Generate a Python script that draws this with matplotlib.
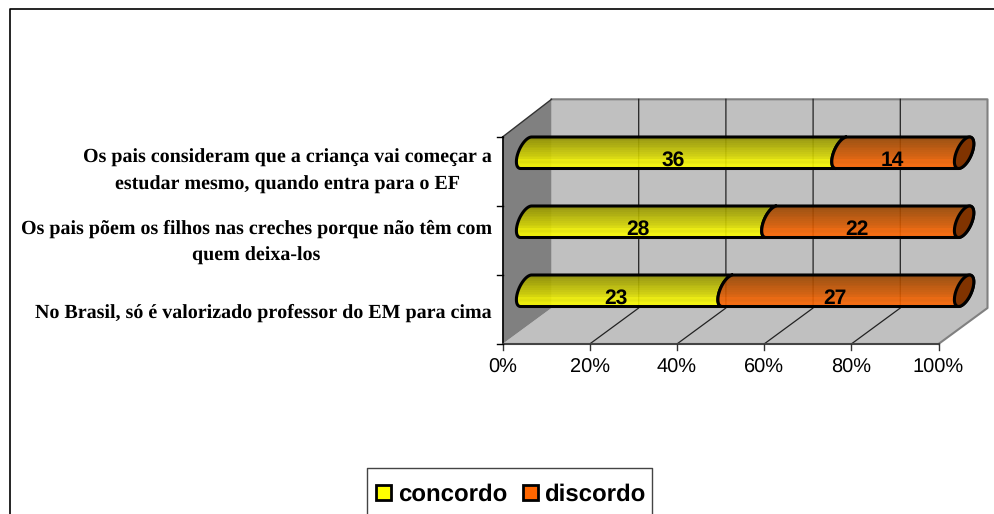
"""Stacked 3D-look cylinder bars (Excel style), drawn in pixel coordinates."""
import matplotlib
matplotlib.use("Agg")
import matplotlib.pyplot as plt
from matplotlib.patches import Polygon
import numpy as np

plt.rcParams["text.hinting"] = "none"
plt.rcParams["text.hinting_factor"] = 1

CATEGORIES = ["Os pais consideram que a criança vai começar a\nestudar mesmo, quando entra para o EF",
              "Os pais põem os filhos nas creches porque não têm com\nquem deixa-los",
              "No Brasil, só é valorizado professor do EM para cima"]
CONCORDO = [36, 28, 23]
DISCORDO = [14, 22, 27]
SERIES = ["concordo", "discordo"]
TICKS = [0, 20, 40, 60, 80, 100]

# plot box in pixels
X0, X1 = 502.5, 938.5
Y_TOP, Y_BOT = 137.0, 344.0
DX = 49.0
BACK_TOP, BACK_BOT = 99.3, 308.0
BAR_H = 31.5
BAR_X0, BAR_W = 520.6, 438.0
SKEW, RX = 11.0, 8.0
SANS = "Liberation Sans"
SERIF = "Liberation Serif"


def arc(x, top, side):
    # half of the skewed end ellipse, top to bottom; side -1 = left bulge
    t = np.linspace(0, np.pi, 30)
    cx, cy = x + SKEW / 2, top + BAR_H / 2
    xs = cx + side * RX * np.sin(t) + SKEW / 2 * np.cos(t)
    ys = cy - BAR_H / 2 * np.cos(t)
    return np.column_stack([xs, ys])


def segment(ax, lo, hi, top, c_dark, c_light, z, end_side):
    left = arc(lo, top, -1)
    right = arc(hi, top, end_side)
    pts = np.vstack([left, right[::-1]])
    ax.add_patch(Polygon(pts, closed=True, fc="none", ec="black", lw=2.2, zorder=z + 0.1))
    clip = Polygon(pts, closed=True, transform=ax.transData)
    n = 18
    ramp = np.linspace(0, 1, n)
    ramp[n - 5] = min(1, ramp[n - 5] + 0.1)
    img = np.array([[np.array(c_dark) * (1 - r) + np.array(c_light) * r] for r in ramp])
    im = ax.imshow(img, extent=(lo - 15, hi + 25, top + BAR_H, top), aspect="auto",
                   interpolation="nearest", alpha=0.9, zorder=z)
    im.set_clip_path(clip)


def main():
    fig = plt.figure(figsize=(9.94, 5.14), dpi=100)
    ax = fig.add_axes([0, 0, 1, 1])
    ax.set_axis_off()

    # outer chart frame, runs off the bottom and right of the image
    ax.plot([9.5, 9.5, 1000], [520, 9, 9], color="black", lw=1.2)

    # walls and floor
    ax.add_patch(Polygon([(X0 + DX, BACK_TOP), (X1 + DX, BACK_TOP), (X1 + DX, BACK_BOT),
                          (X1, Y_BOT), (X0, Y_BOT), (X0 + DX, BACK_BOT)],
                         fc="#c0c0c0", ec="none", zorder=1))
    ax.add_patch(Polygon([(X0, Y_TOP), (X0 + DX, BACK_TOP), (X0 + DX, BACK_BOT), (X0, Y_BOT)],
                         fc="#808080", ec="none", zorder=1))
    ax.plot([X0 + DX, X1 + DX, X1 + DX, X1], [BACK_TOP, BACK_TOP, BACK_BOT, Y_BOT],
            color="#808080", lw=1.5, zorder=2)
    ax.plot([X0, X0 + DX], [Y_TOP, BACK_TOP], color="#333333", lw=1, zorder=2)

    # gridlines on the floor and back wall
    for t in TICKS[1:-1]:
        x = X0 + (X1 - X0) * t / 100
        ax.plot([x, x + DX, x + DX], [Y_BOT, BACK_BOT, BACK_TOP], color="#222222", lw=0.9, zorder=2)

    # axes and ticks
    ax.plot([X0, X0], [Y_TOP, Y_BOT], color="black", lw=1.2, zorder=3)
    ax.plot([X0, X1], [Y_BOT, Y_BOT], color="#444444", lw=1.5, zorder=3)
    for t in TICKS:
        x = X0 + (X1 - X0) * t / 100
        ax.plot([x, x], [Y_BOT, Y_BOT + 6], color="#333333", lw=1, zorder=3)
        ax.text(x, 368, f"{t}%", ha="center", va="center", fontsize=14.3, family=SANS, color="black")
    pitch = (Y_BOT - Y_TOP) / len(CATEGORIES)
    for i in range(len(CATEGORIES) + 1):
        y = Y_TOP + pitch * i
        ax.plot([X0 - 6, X0], [y, y], color="black", lw=1, zorder=3)

    # bars
    for i, (a, b) in enumerate(zip(CONCORDO, DISCORDO)):
        top = Y_TOP + pitch * i
        total = a + b
        mid = BAR_X0 + BAR_W * a / total
        end = BAR_X0 + BAR_W
        segment(ax, BAR_X0, mid, top, (0.56, 0.56, 0), (1, 1, 0), 4, -1)
        segment(ax, mid, end, top, (0.58, 0.27, 0), (1, 0.40, 0), 5, 1)
        t = np.linspace(0, 2 * np.pi, 60)
        cx, cy = end + SKEW / 2, top + BAR_H / 2
        cap = np.column_stack([cx + RX * np.sin(t) + SKEW / 2 * np.cos(t), cy - BAR_H / 2 * np.cos(t)])
        ax.add_patch(Polygon(cap, closed=True, fc="#803300", ec="black", lw=2.2, zorder=6))
        ty = top + BAR_H / 2 + 7.5
        ax.text((BAR_X0 + mid) / 2 - 5, ty, str(a), ha="center", va="center", fontsize=15,
                fontweight="bold", family=SANS, zorder=7)
        ax.text((mid + end) / 2 - 5, ty, str(b), ha="center", va="center", fontsize=15,
                fontweight="bold", family=SANS, zorder=7)

        ax.text(492, 171.5 + 70.5 * i, CATEGORIES[i], ha="right", va="center", fontsize=14.75,
                fontweight="bold", family=SERIF, multialignment="center", linespacing=1.66)

    # legend
    ax.plot([367, 367, 652, 652], [520, 467.5, 467.5, 520], color="#444444", lw=1, zorder=3)
    for x, tx, name, col in [(375.5, 398, SERIES[0], "#ffff00"), (522.5, 544, SERIES[1], "#ff6600")]:
        ax.add_patch(plt.Rectangle((x, 485), 15, 15, fc=col, ec="black", lw=2, zorder=4))
        ax.text(tx, 495, name, ha="left", va="center", fontsize=17.3, fontweight="bold", family=SANS)

    ax.set_xlim(0, 994)
    ax.set_ylim(514, 0)
    fig.savefig("out.png", dpi=100, facecolor="white")


if __name__ == "__main__":
    main()
